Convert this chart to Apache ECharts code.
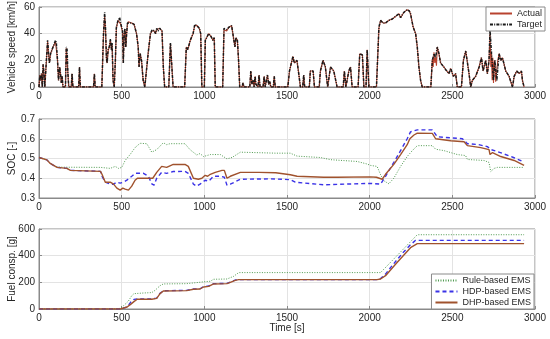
<!DOCTYPE html>
<html><head><meta charset="utf-8">
<script src="https://cdn.jsdelivr.net/npm/echarts@6/dist/echarts.min.js"></script>
<style>html,body{margin:0;padding:0;background:#fff}#c{width:550px;height:339px}</style>
</head><body><div id="c"></div>
<script>
// ---- data (time [s], value) ----
const speedTarget = [[0,0],[5,9],[10,5],[15,10],[20,0],[25,17],[30,10],[35,0],[45,0],[52,35],[58,25],[63,18],[70,25],[85,30],[100,35],[105,33],[112,20],[118,5],[125,15],[130,10],[135,3],[140,8],[145,0],[160,0],[165,30],[170,28],[175,10],[180,0],[195,0],[200,10],[205,0],[240,0],[245,15],[250,0],[330,0],[335,10],[340,0],[380,0],[390,40],[397,56],[402,45],[408,22],[412,18],[418,28],[425,30],[432,36],[438,28],[442,33],[448,5],[455,0],[462,20],[468,45],[478,50],[488,52],[495,47],[500,45],[505,42],[510,18],[515,40],[520,44],[525,30],[530,40],[535,48],[540,49],[560,48],[575,47],[585,46],[590,40],[595,35],[600,30],[605,15],[612,25],[620,20],[630,5],[640,0],[647,0],[660,25],[674,40],[684,43],[698,42],[705,40],[712,44],[720,42],[730,44],[737,45],[744,42],[752,15],[760,0],[785,0],[795,33],[803,32],[811,0],[881,0],[891,30],[900,28],[915,35],[932,40],[942,47],[956,46],[970,44],[978,40],[985,0],[1000,0],[1006,35],[1026,40],[1040,38],[1052,35],[1060,37],[1066,0],[1111,0],[1119,44],[1135,43],[1150,45],[1165,46],[1175,46],[1185,30],[1191,37],[1200,35],[1207,20],[1214,0],[1228,0],[1234,3],[1240,0],[1275,0],[1281,12],[1288,2],[1295,5],[1301,0],[1307,8],[1312,2],[1317,3],[1325,0],[1331,9],[1337,0],[1355,0],[1362,8],[1368,0],[1376,0],[1382,9],[1389,2],[1396,4],[1402,0],[1417,0],[1423,8],[1429,0],[1505,0],[1515,12],[1536,23],[1544,18],[1560,20],[1571,10],[1581,0],[1595,0],[1601,9],[1607,0],[1635,0],[1641,12],[1658,12],[1666,0],[1695,0],[1702,12],[1718,20],[1732,15],[1746,0],[1756,0],[1763,15],[1783,12],[1793,12],[1803,0],[1840,0],[1847,12],[1856,0],[1868,0],[1874,12],[1884,15],[1894,0],[1930,0],[1940,25],[1956,24],[1965,0],[1978,0],[1985,28],[1995,0],[2041,0],[2056,45],[2066,50],[2081,48],[2096,48],[2116,50],[2137,51],[2157,53],[2167,52],[2177,55],[2187,52],[2197,54],[2207,56],[2227,58],[2240,57],[2247,55],[2263,45],[2278,40],[2288,30],[2298,15],[2308,5],[2318,0],[2370,0],[2379,20],[2389,25],[2399,22],[2409,30],[2419,25],[2429,18],[2449,15],[2460,13],[2470,12],[2480,10],[2490,14],[2506,8],[2520,10],[2530,0],[2555,0],[2567,20],[2581,27],[2591,28],[2601,10],[2611,0],[2621,5],[2641,8],[2662,15],[2676,22],[2686,12],[2702,20],[2712,10],[2722,20],[2728,43],[2737,25],[2749,5],[2757,20],[2769,5],[2783,25],[2793,20],[2803,22],[2823,12],[2843,8],[2864,0],[2874,8],[2890,12],[2904,10],[2918,12],[2924,5],[2934,0]];
const speedActual = [[0,0],[5,9],[10,5],[15,10],[20,0],[25,17],[30,10],[35,0],[45,0],[52,34],[58,25],[63,18],[70,25],[85,30],[100,34],[105,33],[112,20],[118,5],[125,15],[130,10],[135,3],[140,8],[145,0],[160,0],[165,29],[170,28],[175,10],[180,0],[195,0],[200,10],[205,0],[240,0],[245,15],[250,0],[330,0],[335,10],[340,0],[380,0],[390,38],[397,53],[402,44],[408,20],[412,18],[418,27],[425,30],[432,35],[438,28],[442,32],[448,5],[455,0],[462,20],[468,44],[478,50],[488,51],[495,47],[500,44],[505,42],[510,18],[515,40],[520,43],[525,30],[530,40],[535,47],[540,49],[560,48],[575,47],[585,46],[590,40],[595,35],[600,30],[605,15],[612,25],[620,20],[630,5],[640,0],[647,0],[660,25],[674,40],[684,42],[698,42],[705,40],[712,43],[720,42],[730,44],[737,45],[744,42],[752,15],[760,0],[785,0],[795,33],[803,32],[811,0],[881,0],[891,30],[900,28],[915,35],[932,40],[942,46],[956,46],[970,44],[978,40],[985,0],[1000,0],[1006,35],[1026,40],[1040,38],[1052,35],[1060,37],[1066,0],[1111,0],[1119,43],[1135,42],[1150,45],[1165,46],[1175,46],[1185,30],[1191,37],[1200,35],[1207,20],[1214,0],[1228,0],[1234,3],[1240,0],[1275,0],[1281,12],[1288,2],[1295,5],[1301,0],[1307,8],[1312,2],[1317,3],[1325,0],[1331,9],[1337,0],[1355,0],[1362,8],[1368,0],[1376,0],[1382,9],[1389,2],[1396,4],[1402,0],[1417,0],[1423,8],[1429,0],[1505,0],[1515,12],[1536,23],[1544,18],[1560,20],[1571,10],[1581,0],[1595,0],[1601,9],[1607,0],[1635,0],[1641,12],[1658,12],[1666,0],[1695,0],[1702,12],[1718,20],[1732,15],[1746,0],[1756,0],[1763,15],[1783,12],[1793,12],[1803,0],[1840,0],[1847,12],[1856,0],[1868,0],[1874,12],[1884,15],[1894,0],[1930,0],[1940,25],[1956,24],[1965,0],[1978,0],[1985,28],[1995,0],[2041,0],[2056,44],[2066,50],[2081,48],[2096,48],[2116,50],[2137,51],[2157,53],[2167,52],[2177,55],[2187,52],[2197,54],[2207,56],[2227,58],[2240,57],[2247,55],[2263,45],[2278,40],[2288,30],[2298,15],[2308,5],[2318,0],[2370,0],[2379,21],[2384,15],[2389,26],[2394,18],[2399,22],[2404,16],[2409,30],[2419,25],[2429,18],[2449,15],[2460,13],[2470,12],[2480,10],[2490,14],[2506,8],[2520,10],[2530,0],[2555,0],[2567,20],[2581,27],[2591,28],[2601,10],[2611,0],[2621,5],[2641,8],[2662,15],[2676,22],[2686,12],[2702,20],[2712,10],[2722,20],[2728,40],[2733,15],[2737,25],[2741,5],[2745,22],[2749,3],[2753,18],[2757,20],[2762,4],[2769,5],[2775,20],[2783,25],[2793,20],[2803,22],[2823,12],[2843,8],[2864,0],[2874,8],[2890,12],[2904,10],[2918,12],[2924,5],[2934,0]];

const socRule = [[0,0.505],[48,0.493],[68,0.475],[109,0.458],[130,0.456],[372,0.455],[431,0.45],[461,0.46],[481,0.45],[501,0.455],[521,0.49],[551,0.52],[581,0.555],[611,0.577],[652,0.575],[682,0.532],[712,0.545],[752,0.58],[772,0.57],[792,0.575],[883,0.575],[913,0.545],[954,0.518],[974,0.525],[995,0.51],[1036,0.52],[1097,0.52],[1137,0.498],[1167,0.505],[1218,0.532],[1432,0.527],[1520,0.527],[1561,0.512],[1702,0.505],[1763,0.494],[1924,0.485],[1985,0.472],[2005,0.465],[2045,0.46],[2066,0.418],[2086,0.387],[2116,0.372],[2146,0.40],[2187,0.46],[2227,0.51],[2258,0.54],[2288,0.565],[2379,0.565],[2399,0.547],[2449,0.54],[2530,0.52],[2580,0.515],[2591,0.495],[2692,0.49],[2722,0.48],[2732,0.434],[2753,0.45],[2773,0.455],[2934,0.455]];
const socHDP = [[0,0.505],[48,0.493],[68,0.475],[109,0.455],[169,0.45],[190,0.44],[372,0.435],[381,0.41],[401,0.38],[431,0.37],[451,0.37],[471,0.38],[491,0.375],[511,0.38],[531,0.39],[561,0.41],[581,0.425],[632,0.425],[662,0.41],[682,0.372],[696,0.365],[712,0.40],[742,0.43],[772,0.425],[812,0.434],[883,0.435],[903,0.425],[934,0.37],[954,0.36],[974,0.37],[1005,0.39],[1026,0.385],[1056,0.41],[1097,0.41],[1121,0.405],[1137,0.365],[1157,0.37],[1218,0.395],[1399,0.397],[1520,0.393],[1550,0.38],[1722,0.367],[2005,0.374],[2066,0.37],[2096,0.41],[2146,0.48],[2187,0.54],[2227,0.60],[2247,0.635],[2288,0.645],[2379,0.645],[2409,0.61],[2561,0.60],[2591,0.575],[2660,0.57],[2712,0.56],[2735,0.545],[2790,0.53],[2870,0.505],[2934,0.482]];
const socDHP = [[0,0.505],[48,0.493],[68,0.475],[109,0.455],[169,0.45],[190,0.44],[372,0.435],[381,0.42],[401,0.38],[431,0.38],[451,0.37],[471,0.35],[491,0.34],[507,0.35],[521,0.345],[541,0.34],[561,0.36],[581,0.39],[595,0.40],[688,0.40],[712,0.43],[742,0.46],[772,0.455],[782,0.46],[812,0.47],[883,0.47],[903,0.46],[934,0.40],[964,0.395],[985,0.40],[1005,0.415],[1020,0.41],[1036,0.42],[1066,0.43],[1107,0.44],[1121,0.44],[1137,0.40],[1157,0.41],[1218,0.43],[1331,0.43],[1432,0.428],[1520,0.418],[1561,0.41],[1722,0.405],[1803,0.405],[2005,0.407],[2041,0.405],[2076,0.395],[2096,0.42],[2146,0.47],[2187,0.52],[2227,0.57],[2243,0.60],[2268,0.619],[2288,0.628],[2379,0.627],[2399,0.60],[2490,0.59],[2571,0.585],[2591,0.565],[2672,0.555],[2722,0.545],[2728,0.52],[2743,0.53],[2793,0.51],[2874,0.49],[2934,0.465]];

const fuelRule = [[0,0],[482,0],[512,25],[541,60],[561,100],[574,115],[632,120],[682,123],[702,140],[732,175],[752,188],[893,190],[954,198],[1005,205],[1036,208],[1056,223],[1137,225],[1177,245],[1208,273],[2066,273],[2288,557],[2934,557]];
const fuelHDP = [[0,0],[492,0],[533,15],[554,50],[574,72],[594,75],[682,75],[712,82],[732,117],[752,137],[893,140],[934,150],[974,152],[995,167],[1026,172],[1056,190],[1137,192],[1157,202],[1187,217],[1208,220],[2045,220],[2066,228],[2096,262],[2126,310],[2167,372],[2207,430],[2247,482],[2278,515],[2934,515]];
const fuelDHP = [[0,0],[492,0],[533,15],[554,35],[574,55],[594,73],[682,73],[712,80],[732,115],[752,135],[893,138],[934,148],[974,150],[995,165],[1026,170],[1056,188],[1137,190],[1157,200],[1187,215],[1208,220],[1763,220],[2045,220],[2066,225],[2096,250],[2167,350],[2247,460],[2288,490],[2934,490]];

const timeTicks = [0, 3000, 500];
const speedAxis = [0, 60, 20];
const socAxis = [0.3, 0.7, 0.1];
const fuelAxis = [0, 600, 200];

// ---- chart ----
const FONT = 'Liberation Sans, Arial, sans-serif';
const TXT = '#262626';
const BOX = '#8a8a8a';
const GRIDC = '#e3e3e3';
const grids = [
  {left:39, right:15, top:7, height:80},
  {left:39, right:15, top:119, height:79},
  {left:39, right:15, top:229, height:80}
];
function xAx(i, name){
  return {type:'value', gridIndex:i, min:timeTicks[0], max:timeTicks[1], interval:timeTicks[2],
    axisLine:{show:true, onZero:false, lineStyle:{color:BOX, width:1}},
    axisTick:{show:true, inside:true, length:3, lineStyle:{color:BOX}},
    axisLabel:{color:TXT, fontSize:10, fontFamily:FONT, margin:4, formatter: v => String(v)},
    splitLine:{show:true, lineStyle:{color:GRIDC, width:1}},
    name:name||'', nameLocation:'middle', nameGap:14, nameMoveOverlap:false,
    nameTextStyle:{color:TXT, fontSize:10, fontFamily:FONT}};
}
function yAx(i, rng, name, fmt){
  return {type:'value', gridIndex:i, min:rng[0], max:rng[1], interval:rng[2],
    axisLine:{show:true, onZero:false, lineStyle:{color:BOX, width:1}},
    axisTick:{show:true, inside:true, length:3, lineStyle:{color:BOX}},
    axisLabel:{color:TXT, fontSize:10, fontFamily:FONT, margin:4, formatter:fmt || (v => String(v))},
    splitLine:{show:true, lineStyle:{color:GRIDC, width:1}},
    name:name, nameLocation:'middle', nameGap:22, nameMoveOverlap:false,
    nameTextStyle:{color:TXT, fontSize:10, fontFamily:FONT}};
}
function ln(name, data, xi, color, width, type, z){
  return {name, type:'line', xAxisIndex:xi, yAxisIndex:xi, data, symbol:'none', showSymbol:false,
    lineStyle:{color, width, type}, itemStyle:{color}, z:z||2, silent:true};
}
const legendBase = {orient:'vertical', selectedMode:false, backgroundColor:'#fff', borderColor:'#8a8a8a', borderWidth:1,
  itemWidth:22, itemHeight:8, itemGap:2, padding:[2,3,2,3], itemStyle:{opacity:0},
  textStyle:{color:TXT, fontSize:9, fontFamily:FONT}};

const chart = echarts.init(document.getElementById('c'), null, {renderer:'canvas'});
chart.setOption({
  animation:false,
  backgroundColor:'#fff',
  grid: grids.map(g => Object.assign({show:true, borderColor:BOX, borderWidth:1, backgroundColor:'#fff', containLabel:false, outerBoundsMode:'none'}, g)),
  xAxis:[xAx(0), xAx(1), xAx(2,'Time [s]')],
  yAxis:[yAx(0, speedAxis, 'Vehicle speed [km/h]'), yAx(1, socAxis, 'SOC [-]', v => v.toFixed(1)), yAx(2, fuelAxis, 'Fuel consp. [g]')],
  legend:[
    Object.assign({}, legendBase, {data:['Actual','Target'], right:5, top:7}),
    Object.assign({}, legendBase, {data:['Rule-based EMS','HDP-based EMS','DHP-based EMS'], right:16, top:274})
  ],
  series:[
    ln('Actual', speedActual, 0, '#b8432f', 1.1, 'solid', 2),
    ln('Target', speedTarget, 0, '#1a1a1a', 1.5, [3,1.2,1,1.2], 3),
    ln('Rule-based EMS', socRule, 1, '#4f9a4f', 1, [1,1.5], 2),
    ln('HDP-based EMS', socHDP, 1, '#3a32e6', 1.4, [4,3], 3),
    ln('DHP-based EMS', socDHP, 1, '#a0522d', 1.4, 'solid', 4),
    ln('Rule-based EMS', fuelRule, 2, '#4f9a4f', 1, [1,1.5], 2),
    ln('HDP-based EMS', fuelHDP, 2, '#3a32e6', 1.4, [4,3], 3),
    ln('DHP-based EMS', fuelDHP, 2, '#a0522d', 1.4, 'solid', 4)
  ]
});
</script></body></html>
